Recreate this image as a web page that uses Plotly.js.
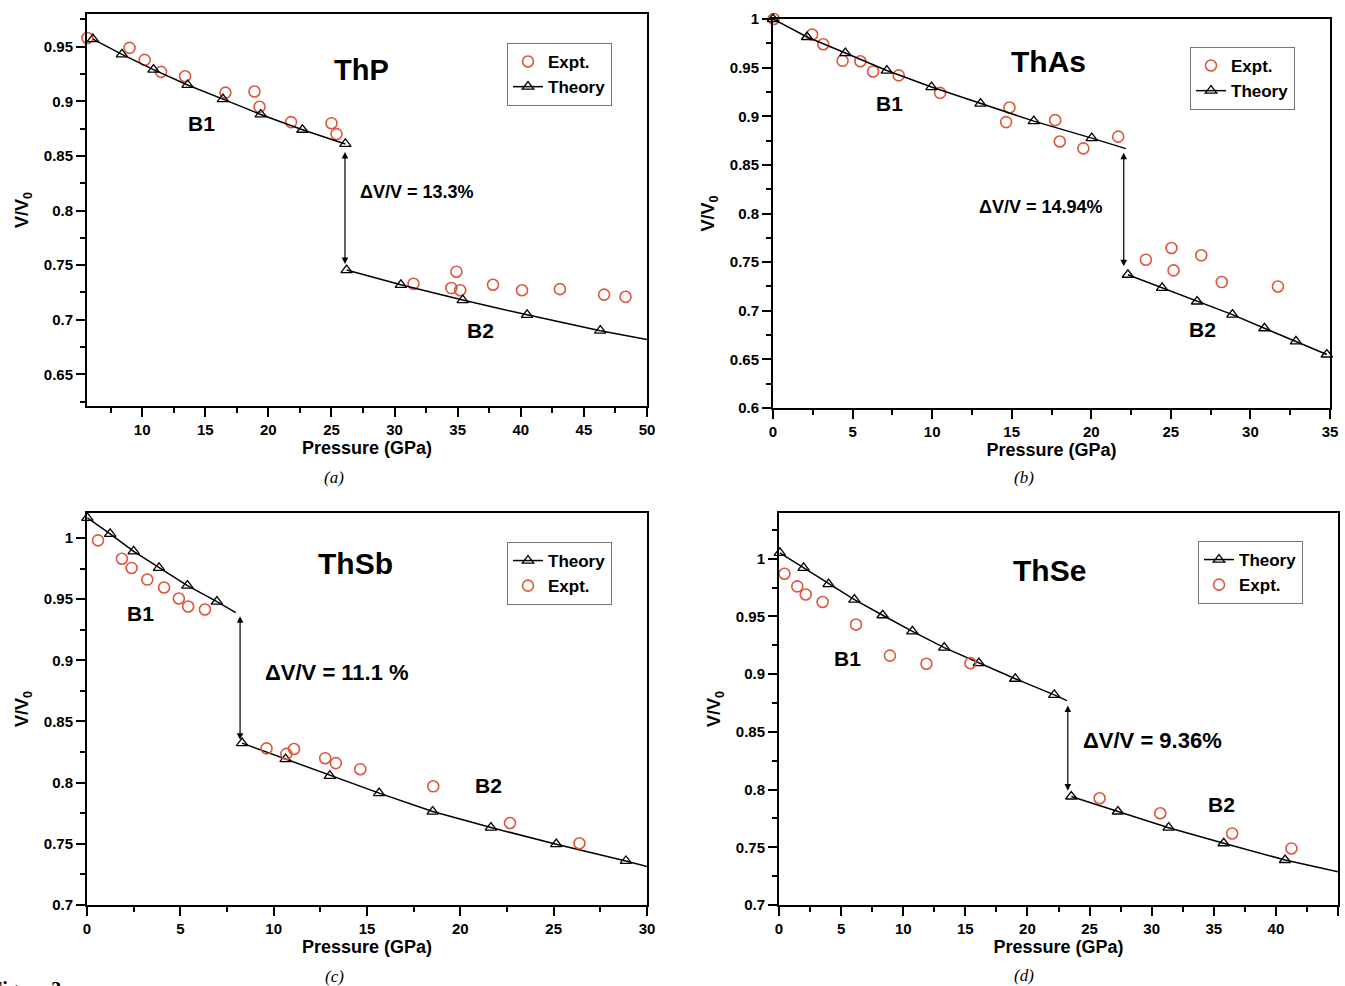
<!DOCTYPE html>
<html>
  <head>
    <meta charset="utf-8" />
    <title>V/V0 vs Pressure – ThP, ThAs, ThSb, ThSe</title>
    <script src="https://cdn.plot.ly/plotly-3.0.1.min.js"></script>
    <style>
      body { margin: 0; padding: 0; background: white; overflow: hidden; }
      #graphDiv { width: 1345px; height: 986px; }
    </style>
  </head>
  <body>
    <div id="graphDiv"></div>
    <script>
      // ---- (a) ThP ----
      const thpExptP = [5.66, 9.0, 10.2, 11.5, 13.4, 16.6, 18.9, 19.3, 21.8, 25.0, 25.4, 31.5, 34.9, 34.5, 35.2, 37.8, 40.1, 43.1, 46.6, 48.3];
      const thpExptV = [0.958, 0.949, 0.938, 0.927, 0.923, 0.908, 0.909, 0.895, 0.881, 0.880, 0.870, 0.733, 0.744, 0.729, 0.727, 0.732, 0.727, 0.728, 0.723, 0.721];
      const thpB1P = [6.1, 8.4, 10.9, 13.6, 16.4, 19.4, 22.7, 26.1];
      const thpB1V = [0.957, 0.943, 0.929, 0.915, 0.902, 0.888, 0.874, 0.861];
      const thpB2P = [26.2, 30.5, 35.4, 40.5, 46.3];
      const thpB2V = [0.7455, 0.732, 0.718, 0.7045, 0.690];
      const thpTailP = [46.3, 50];
      const thpTailV = [0.690, 0.682];

      // ---- (b) ThAs ----
      const thasExptP = [0.05, 2.46, 3.16, 4.37, 5.49, 6.29, 7.9, 10.5, 14.86, 14.65, 17.73, 18.02, 19.5, 21.69, 23.43, 25.04, 25.17, 26.91, 28.2, 31.73];
      const thasExptV = [1.0, 0.984, 0.974, 0.957, 0.9565, 0.946, 0.942, 0.924, 0.909, 0.894, 0.896, 0.874, 0.867, 0.879, 0.7525, 0.7645, 0.7415, 0.757, 0.7295, 0.725];
      const thasB1P = [0, 2.14, 4.55, 7.15, 9.96, 13.04, 16.39, 20.03];
      const thasB1V = [1.0, 0.9815, 0.965, 0.947, 0.930, 0.913, 0.895, 0.8775];
      const thasTailP = [20.03, 22.17];
      const thasTailV = [0.8775, 0.8667];
      const thasB2P = [22.3, 24.45, 26.65, 28.87, 30.88, 32.86, 34.8];
      const thasB2V = [0.737, 0.7235, 0.7095, 0.696, 0.682, 0.6685, 0.655];

      // ---- (c) ThSb ----
      const thsbExptP = [0.59, 1.87, 2.39, 3.23, 4.13, 4.92, 5.42, 6.32, 9.62, 10.68, 11.09, 12.76, 13.33, 14.64, 18.55, 22.66, 26.38];
      const thsbExptV = [0.998, 0.983, 0.9755, 0.966, 0.9595, 0.9505, 0.944, 0.9415, 0.828, 0.8235, 0.8275, 0.82, 0.816, 0.811, 0.797, 0.767, 0.7505];
      const thsbB1P = [0.02, 1.24, 2.5, 3.86, 5.38, 6.96];
      const thsbB1V = [1.0164, 1.0033, 0.989, 0.9755, 0.961, 0.948];
      const thsbTail1P = [6.96, 7.97];
      const thsbTail1V = [0.948, 0.939];
      const thsbB2P = [8.31, 10.64, 13.01, 15.65, 18.52, 21.64, 25.14, 28.87];
      const thsbB2V = [0.8323, 0.8192, 0.8056, 0.7914, 0.7764, 0.7633, 0.7497, 0.736];
      const thsbTail2P = [28.87, 30];
      const thsbTail2V = [0.736, 0.7314];

      // ---- (d) ThSe ----
      const thseExptP = [0.44, 1.47, 2.15, 3.51, 6.2, 8.93, 11.87, 15.41, 25.81, 30.69, 36.48, 41.25];
      const thseExptV = [0.987, 0.976, 0.969, 0.9625, 0.943, 0.916, 0.909, 0.9095, 0.7925, 0.7795, 0.762, 0.749];
      const thseB1P = [0.07, 1.98, 3.99, 6.07, 8.35, 10.74, 13.3, 16.09, 19.02, 22.16];
      const thseB1V = [1.005, 0.992, 0.978, 0.9645, 0.951, 0.937, 0.923, 0.9095, 0.896, 0.882];
      const thseTail1P = [22.16, 23.18];
      const thseTail1V = [0.882, 0.877];
      const thseB2P = [23.53, 27.28, 31.37, 35.8, 40.74];
      const thseB2V = [0.794, 0.781, 0.767, 0.7535, 0.739];
      const thseTail2P = [40.74, 45];
      const thseTail2V = [0.739, 0.7287];

      const SANS = "Liberation Sans, Arial, sans-serif";
      const SERIF = "Liberation Serif, Times New Roman, serif";
      const RED = "#e0553c";

      const traces = [];

      function exptTrace(p, v, k) {
        return {
          x: p, y: v, xaxis: "x" + (k === 1 ? "" : k), yaxis: "y" + (k === 1 ? "" : k),
          mode: "markers", name: "Expt.", legend: "legend" + (k === 1 ? "" : k),
          marker: { symbol: "circle-open", size: 11, color: RED, line: { width: 1.6, color: RED } },
          cliponaxis: false,
        };
      }
      function theoryTrace(p, v, k, inLegend) {
        return {
          x: p, y: v, xaxis: "x" + (k === 1 ? "" : k), yaxis: "y" + (k === 1 ? "" : k),
          mode: "lines+markers", name: "Theory", legend: "legend" + (k === 1 ? "" : k),
          showlegend: inLegend,
          line: { color: "black", width: 1.5 },
          marker: { symbol: "triangle-up-open", size: 10, color: "black", line: { width: 1.3, color: "black" } },
          cliponaxis: false,
        };
      }
      function tailTrace(p, v, k) {
        return {
          x: p, y: v, xaxis: "x" + (k === 1 ? "" : k), yaxis: "y" + (k === 1 ? "" : k),
          mode: "lines", showlegend: false, hoverinfo: "skip",
          line: { color: "black", width: 1.5 },
        };
      }

      // (a) and (b): Expt listed first in legend
      traces.push(exptTrace(thpExptP, thpExptV, 1));
      traces.push(theoryTrace(thpB1P, thpB1V, 1, true));
      traces.push(theoryTrace(thpB2P, thpB2V, 1, false));
      traces.push(tailTrace(thpTailP, thpTailV, 1));

      traces.push(exptTrace(thasExptP, thasExptV, 2));
      traces.push(theoryTrace(thasB1P, thasB1V, 2, true));
      traces.push(tailTrace(thasTailP, thasTailV, 2));
      traces.push(theoryTrace(thasB2P, thasB2V, 2, false));

      // (c) and (d): Theory listed first
      traces.push(theoryTrace(thsbB1P, thsbB1V, 3, true));
      traces.push(tailTrace(thsbTail1P, thsbTail1V, 3));
      traces.push(theoryTrace(thsbB2P, thsbB2V, 3, false));
      traces.push(tailTrace(thsbTail2P, thsbTail2V, 3));
      traces.push(exptTrace(thsbExptP, thsbExptV, 3));

      traces.push(theoryTrace(thseB1P, thseB1V, 4, true));
      traces.push(tailTrace(thseTail1P, thseTail1V, 4));
      traces.push(theoryTrace(thseB2P, thseB2V, 4, false));
      traces.push(tailTrace(thseTail2P, thseTail2V, 4));
      traces.push(exptTrace(thseExptP, thseExptV, 4));

      function xAxis(domain, range, anchor) {
        return {
          domain, range, anchor,
          tick0: 0, dtick: 5,
          ticks: "outside", ticklen: 9, tickwidth: 2, tickcolor: "black",
          minor: { dtick: 2.5, ticks: "outside", ticklen: 5, tickwidth: 1.5, tickcolor: "black" },
          showline: true, linewidth: 2, linecolor: "black", mirror: true,
          showgrid: false, zeroline: false,
          tickfont: { family: SANS, size: 15, color: "black", weight: "bold" },
          title: { text: "Pressure (GPa)", standoff: 3, font: { family: SANS, size: 18, color: "black", weight: "bold" } },
        };
      }
      function yAxis(domain, range, anchor) {
        return {
          domain, range, anchor,
          tick0: 0, dtick: 0.05,
          ticks: "outside", ticklen: 9, tickwidth: 2, tickcolor: "black",
          minor: { dtick: 0.025, ticks: "outside", ticklen: 5, tickwidth: 1.5, tickcolor: "black" },
          showline: true, linewidth: 2, linecolor: "black", mirror: true,
          showgrid: false, zeroline: false,
          tickfont: { family: SANS, size: 15, color: "black", weight: "bold" },
          title: { text: "V/V<sub>0</sub>", standoff: 10, font: { family: SANS, size: 18, color: "black", weight: "bold" } },
        };
      }

      function legendBox(x, y) {
        return {
          x, y, xanchor: "left", yanchor: "top",
          bgcolor: "white", bordercolor: "#777", borderwidth: 1,
          font: { family: SANS, size: 17, color: "black", weight: "bold" },
          itemwidth: 30, tracegroupgap: 0,
        };
      }

      function label(text, x, y, k, size, extra) {
        return Object.assign({
          text, x, y, xref: "x" + (k === 1 ? "" : k), yref: "y" + (k === 1 ? "" : k),
          showarrow: false, font: { family: SANS, size, color: "black", weight: "bold" },
        }, extra || {});
      }
      function jump(x, yLow, yHigh, k) {
        const ax = "x" + (k === 1 ? "" : k), ay = "y" + (k === 1 ? "" : k);
        return {
          text: "", x, y: yLow, ax: x, ay: yHigh, xref: ax, yref: ay, axref: ax, ayref: ay,
          showarrow: true, arrowside: "end+start", arrowhead: 2, arrowsize: 1.1, arrowwidth: 1.2,
          arrowcolor: "black", standoff: 0, startstandoff: 0,
        };
      }
      function caption(text, x, y) {
        return {
          text: "<i>" + text + "</i>", x, y, xref: "paper", yref: "paper",
          xanchor: "center", yanchor: "middle",
          showarrow: false, font: { family: SERIF, size: 17, color: "black" },
        };
      }

      const W = 1345, H = 986;
      const px = (a, b) => [a / W, b / W];
      const py = (top, bottom) => [1 - bottom / H, 1 - top / H];

      const annotations = [
        // (a)
        label("ThP", 27.4, 0.929, 1, 29),
        label("B1", 14.7, 0.88, 1, 21),
        label("B2", 36.8, 0.690, 1, 21),
        label("\u0394V/V = 13.3%", 27.1, 0.817, 1, 18, { xanchor: "left" }),
        jump(26.07, 0.751, 0.855, 1),
        // (b)
        label("ThAs", 17.3, 0.9565, 2, 30),
        label("B1", 7.3, 0.913, 2, 21),
        label("B2", 27.0, 0.681, 2, 21),
        label("\u0394V/V = 14.94%", 20.85, 0.807, 2, 18, { xanchor: "right" }),
        jump(22.04, 0.7457, 0.864, 2),
        // (c)
        label("ThSb", 14.4, 0.9795, 3, 30),
        label("B1", 2.85, 0.9386, 3, 21),
        label("B2", 21.5, 0.798, 3, 21),
        label("\u0394V/V = 11.1 %", 9.44, 0.89, 3, 22, { xanchor: "left" }),
        jump(8.2, 0.835, 0.9373, 3),
        // (d)
        label("ThSe", 21.75, 0.99, 4, 30),
        label("B1", 5.5, 0.9132, 4, 21),
        label("B2", 35.6, 0.7874, 4, 21),
        label("\u0394V/V = 9.36%", 24.3, 0.8423, 4, 22, { xanchor: "left" }),
        jump(23.25, 0.799, 0.8742, 4),
        // captions
        caption("(a)", 334 / W, 1 - 478 / H),
        caption("(b)", 1024 / W, 1 - 478 / H),
        caption("(c)", 334 / W, 1 - 976 / H),
        caption("(d)", 1024 / W, 1 - 975 / H),
        {
          text: "<b>Figure 3</b>", x: -12 / W, y: 1 - 990 / H, xref: "paper", yref: "paper",
          xanchor: "left", yanchor: "middle", showarrow: false,
          font: { family: SERIF, size: 20, color: "black" },
        },
      ];

      const layout = {
        width: W, height: H,
        margin: { l: 0, r: 0, t: 0, b: 0 },
        paper_bgcolor: "white", plot_bgcolor: "white",
        xaxis: xAxis(px(87, 647), [5.63, 50], "y"),
        yaxis: yAxis(py(14, 406), [0.621, 0.98], "x"),
        xaxis2: xAxis(px(773, 1330), [0, 35], "y2"),
        yaxis2: yAxis(py(19, 408), [0.6, 1.0], "x2"),
        xaxis3: xAxis(px(87, 647), [0, 30], "y3"),
        yaxis3: yAxis(py(513, 905), [0.7, 1.0204], "x3"),
        xaxis4: xAxis(px(779, 1338), [0, 45], "y4"),
        yaxis4: yAxis(py(513, 905), [0.7, 1.0396], "x4"),
        legend: legendBox(507 / W, 1 - 43 / H),
        legend2: legendBox(1190 / W, 1 - 47 / H),
        legend3: legendBox(507 / W, 1 - 542 / H),
        legend4: legendBox(1198 / W, 1 - 541 / H),
        annotations,
        showlegend: true,
      };

      Plotly.newPlot("graphDiv", traces, layout, { displayModeBar: false, responsive: false });
    </script>
  </body>
</html>
